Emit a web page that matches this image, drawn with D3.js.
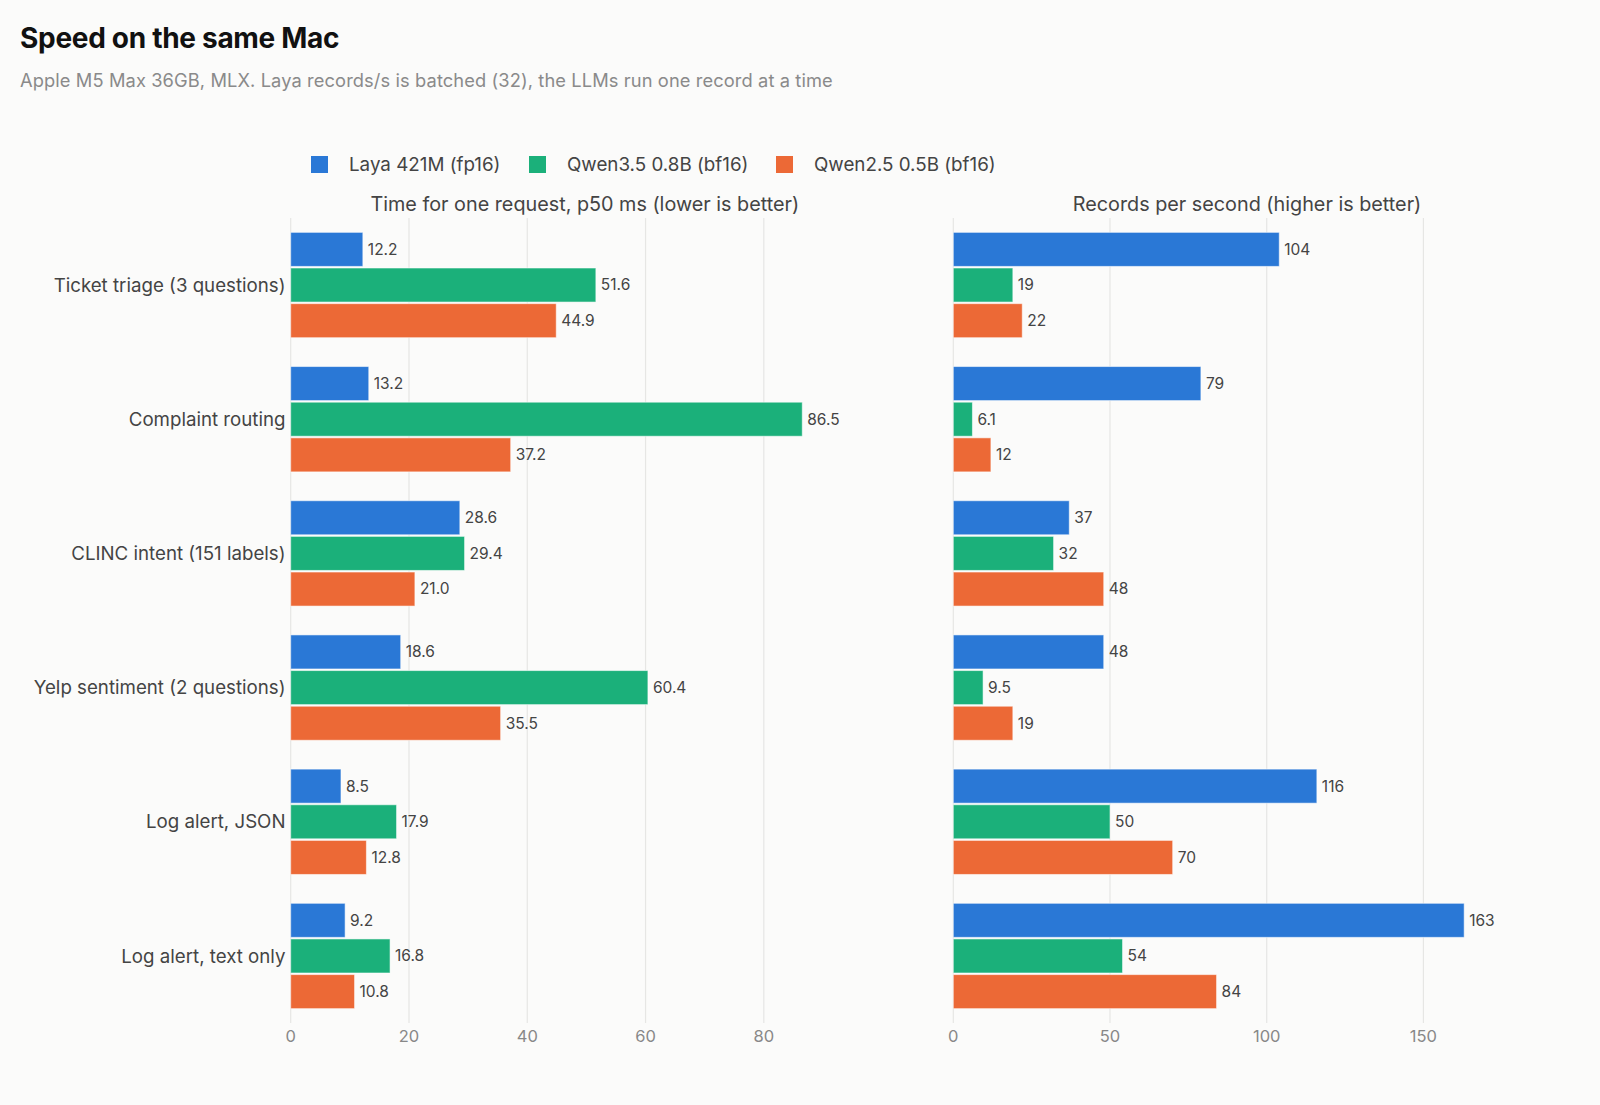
<!DOCTYPE html>
<html>
<head>
<meta charset="utf-8">
<script src="https://cdn.jsdelivr.net/npm/d3@7"></script>
<style>
  html, body { margin: 0; padding: 0; background: #fbfbfa; }
  svg { display: block; font-family: Inter, "Noto Sans", sans-serif; }
</style>
</head>
<body>
<svg id="chart" width="1600" height="1105"></svg>
<script>
// data
var categories = ["Ticket triage (3 questions)", "Complaint routing", "CLINC intent (151 labels)",
                  "Yelp sentiment (2 questions)", "Log alert, JSON", "Log alert, text only"];
var series_names = ["Laya 421M (fp16)", "Qwen3.5 0.8B (bf16)", "Qwen2.5 0.5B (bf16)"];
var series_colors = ["#2a78d6", "#1bb07a", "#ec6936"];

var latency_laya = [12.2, 13.2, 28.6, 18.6, 8.5, 9.2];
var latency_qwen35 = [51.6, 86.5, 29.4, 60.4, 17.9, 16.8];
var latency_qwen25 = [44.9, 37.2, 21.0, 35.5, 12.8, 10.8];

var rps_laya = [104, 79, 37, 48, 116, 163];
var rps_qwen35 = [19, 6.1, 32, 9.5, 50, 54];
var rps_qwen25 = [22, 12, 48, 19, 70, 84];

var svg = d3.select("#chart");

svg.append("text")
	.attr("x", 20).attr("y", 48)
	.attr("font-size", 28).attr("font-weight", 700).attr("fill", "#111")
	.attr("letter-spacing", -0.3)
	.text("Speed on the same Mac");

svg.append("text")
	.attr("x", 20).attr("y", 87)
	.attr("font-size", 18.3).attr("fill", "#8a8a8a")
	.attr("letter-spacing", 0.1)
	.text("Apple M5 Max 36GB, MLX. Laya records/s is batched (32), the LLMs run one record at a time");

// legend
var legend_x = [311, 529, 776];
series_names.forEach(function(name, i){
	var g = svg.append("g").attr("transform", "translate(" + legend_x[i] + ",156)");
	g.append("rect").attr("width", 17).attr("height", 17).attr("fill", series_colors[i]);
	g.append("text").attr("x", 38).attr("y", 15).attr("font-size", 18.8).attr("fill", "#444").text(name);
});

var top_y = 218, bottom_y = 1023;

var y = d3.scaleBand().domain(categories).range([top_y, bottom_y]).paddingInner(0.215).paddingOuter(0.107);
var y_inner = d3.scaleBand().domain([0, 1, 2]).range([0, y.bandwidth()]).paddingInner(0.045);

function panel(x0, width, title, series, fmt){
	var max = d3.max(series, function(s){ return d3.max(s); });
	var x = d3.scaleLinear().domain([0, max * 1.15]).range([x0, x0 + width]);
	var g = svg.append("g");

	g.append("text")
		.attr("x", x0 + width / 2).attr("y", 211)
		.attr("text-anchor", "middle").attr("font-size", 19.8).attr("fill", "#444")
		.text(title);

	var ticks = x.ticks(5);
	g.selectAll(".grid").data(ticks).enter().append("line")
		.attr("x1", function(d){ return x(d); }).attr("x2", function(d){ return x(d); })
		.attr("y1", top_y).attr("y2", bottom_y)
		.attr("stroke", "#e6e6e4").attr("stroke-width", 1.2);

	g.selectAll(".tick").data(ticks).enter().append("text")
		.attr("x", function(d){ return x(d); }).attr("y", 1042)
		.attr("text-anchor", "middle").attr("font-size", 16.5).attr("fill", "#888")
		.text(function(d){ return d; });

	series.forEach(function(values, si){
		var rows = values.map(function(v, ci){ return {cat: categories[ci], v: v}; });
		g.selectAll(".bar" + si).data(rows).enter().append("rect")
			.attr("x", x(0))
			.attr("y", function(d){ return y(d.cat) + y_inner(si); })
			.attr("width", function(d){ return x(d.v) - x(0); })
			.attr("height", y_inner.bandwidth())
			.attr("fill", series_colors[si])
			.attr("stroke", "#ffffff").attr("stroke-opacity", 0.55).attr("stroke-width", 1);

		g.selectAll(".val" + si).data(rows).enter().append("text")
			.attr("x", function(d){ return x(d.v) + 5; })
			.attr("y", function(d){ return y(d.cat) + y_inner(si) + y_inner.bandwidth() / 2; })
			.attr("dy", "0.35em")
			.attr("font-size", 15.5).attr("fill", "#444")
			.text(function(d){ return fmt(d.v); });
	});
	return x;
}

panel(290.7, 588.3, "Time for one request, p50 ms (lower is better)",
	[latency_laya, latency_qwen35, latency_qwen25], d3.format(".1f"));

panel(953.3, 587.5, "Records per second (higher is better)",
	[rps_laya, rps_qwen35, rps_qwen25], function(v){ return v < 10 ? d3.format(".1f")(v) : d3.format("d")(v); });

// category labels
svg.selectAll(".cat").data(categories).enter().append("text")
	.attr("x", 285.5)
	.attr("y", function(d){ return y(d) + y.bandwidth() / 2; })
	.attr("dy", "0.35em")
	.attr("text-anchor", "end").attr("font-size", 18.7).attr("fill", "#444")
	.text(function(d){ return d; });
</script>
</body>
</html>
